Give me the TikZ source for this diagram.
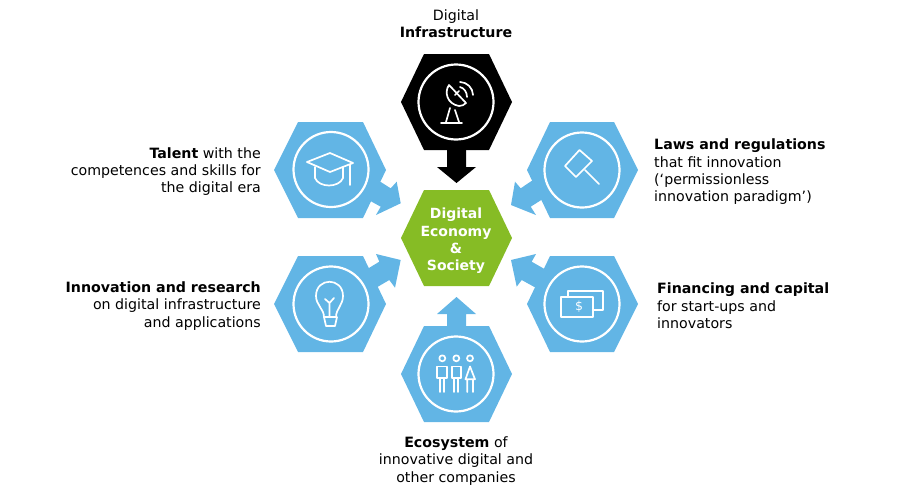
\documentclass[tikz,border=0pt]{standalone}
\usepackage{fontspec}
\setmainfont{DejaVu Sans}
\definecolor{sky}{HTML}{62B5E5}
\definecolor{leaf}{HTML}{86BC25}
\begin{document}
\begin{tikzpicture}[x=1pt,y=-1pt,line join=miter,
 hexa/.style={fill=sky,draw=none},
 ring/.style={draw=white,line width=2.2pt},
 icon/.style={draw=white,line width=1.7pt,fill=none,line cap=round,line join=round},
 caption/.style={inner sep=0pt,font=\fontsize{14.2pt}{17.3pt}\selectfont}]
\useasboundingbox (0,0) rectangle (900,490);
% arrows
\fill[sky] (376,179) -- (390.7,188.3) -- (396.7,181.7) -- (400.7,203.3) -- (376,215) -- (380.7,206.7) -- (365,198) -- cycle;
\fill[sky] (536,178) -- (520.7,188.3) -- (515,181.7) -- (511,205) -- (536,215) -- (530.7,206.7) -- (546,197) -- cycle;
\fill[sky] (364,271) -- (379.3,261.7) -- (376,254) -- (400.7,260) -- (395,287.7) -- (389.3,280) -- (374,289) -- cycle;
\fill[sky] (548,271) -- (531.7,261.7) -- (536,254) -- (511,260) -- (516.7,286.7) -- (521.7,280) -- (538,289) -- cycle;
\fill[black] (447,145) -- (447,167) -- (437,167) -- (456.5,183) -- (476,167) -- (466,167) -- (466,145) -- cycle;
\fill[sky] (447,330) -- (447,314) -- (437,314) -- (456.5,297) -- (476,314) -- (466,314) -- (466,330) -- cycle;
% hexagons
\fill[black] (424,54) -- (489,54) -- (512,102) -- (489,150) -- (424,150) -- (401,102) -- cycle;
\fill[hexa] (298,122) -- (363,122) -- (386,170) -- (363,218) -- (298,218) -- (274,170) -- cycle;
\fill[hexa] (550,122) -- (614,122) -- (638,170) -- (614,218) -- (550,218) -- (527,170) -- cycle;
\fill[hexa] (298,256) -- (363,256) -- (386,304) -- (363,352) -- (298,352) -- (274,304) -- cycle;
\fill[hexa] (550,256) -- (614,256) -- (638,304) -- (614,352) -- (550,352) -- (527,304) -- cycle;
\fill[hexa] (424,326) -- (489,326) -- (512,374) -- (489,422) -- (424,422) -- (401,374) -- cycle;
\fill[leaf] (424,190) -- (489,190) -- (512,238) -- (489,286) -- (424,286) -- (401,238) -- cycle;
% rings
\draw[ring] (456,102) circle (37.5);
\draw[ring] (331,169.5) circle (37.5);
\draw[ring] (582,170) circle (37.5);
\draw[ring] (331,304) circle (37.5);
\draw[ring] (582,304) circle (37.5);
\draw[ring] (456,374) circle (37.5);
% dish
\draw[icon] (449,85) .. controls (444,92) and (447,104) .. (459,106) .. controls (462,106) and (464,105) .. (466,103) -- cycle;
\draw[icon] (450,108) -- (446,122) (455,110) -- (459,122) (441,123) -- (462,123) (455,95) -- (459,91);
\draw[icon] (460,87) .. controls (464,88) and (467,92) .. (467,97);
\draw[icon] (460,82) .. controls (467,82) and (473,88) .. (473,95);
% cap
\draw[icon] (330,153) -- (307,162) -- (330,172) -- (353,163) -- cycle;
\draw[icon] (315,167) -- (315,178) .. controls (319,188) and (339,188) .. (343,178) -- (343,167);
\draw[icon] (350,165) -- (350,185);
% gavel
\draw[icon] (579.5,150) -- (592,161) -- (576,177) -- (565,166) -- cycle;
\draw[icon] (585,170) -- (599,184);
% bulb
\draw[icon] (324,317) .. controls (324,309) and (316,305) .. (316,296) .. controls (316,277) and (343,277) .. (343,296) .. controls (343,305) and (336,309) .. (336,317) -- cycle;
\draw[icon] (324,317) -- (326,326) -- (335,326) -- (337,317);
\draw[icon] (329.5,316) -- (329.5,303) (325,299) -- (329.5,303) -- (334,298);
% banknotes
\draw[icon] (561,297) -- (561,317) -- (593,317) -- (593,297) -- cycle;
\draw[icon] (568,297) -- (568,291) -- (603,291) -- (603,310) -- (593,310);
\node[inner sep=0pt,text=white] (dollar) at (579,307) {\fontsize{12.5pt}{13pt}\selectfont \$};
% people
\draw[icon] (442.3,358.3) circle (3);
\draw[icon] (456.3,358.3) circle (3);
\draw[icon] (470,358.3) circle (3);
\draw[icon] (437.3,366.5) -- (446.7,366.5) -- (446.7,378.3) -- (437.3,378.3) -- cycle (440,378.3) -- (440,392) (444,378.3) -- (444,392);
\draw[icon] (451.7,366.5) -- (461,366.5) -- (461,378.3) -- (451.7,378.3) -- cycle (454.3,378.3) -- (454.3,392) (458.3,378.3) -- (458.3,392);
\draw[icon] (470,366.5) -- (475,379.3) -- (465.5,379.3) -- cycle (467.3,379.3) -- (467.3,392) (473,379.3) -- (473,392);
% texts
\node[caption,align=center] (top) at (456,23.5) {Digital\\\textbf{Infrastructure}};
\node[caption,align=center,text=white,font=\fontsize{14pt}{17.3pt}\selectfont\bfseries] (mid) at (456,241) {Digital\\Economy\\\&\\Society};
\node[caption,align=right,anchor=east] (talent) at (261,171.5) {\textbf{Talent} with the\\competences and skills for\\the digital era};
\node[caption,align=left,anchor=west] (laws) at (654,172) {\textbf{Laws and regulations}\\that fit innovation\\(‘permissionless\\innovation paradigm’)};
\node[caption,align=right,anchor=east] (innov) at (261,306) {\textbf{Innovation and research}\\on digital infrastructure\\and applications};
\node[caption,align=left,anchor=west] (fin) at (657,306) {\textbf{Financing and capital}\\for start-ups and\\innovators};
\node[caption,align=center] (eco) at (456,461) {\textbf{Ecosystem} of\\innovative digital and\\other companies};
\end{tikzpicture}
\end{document}
